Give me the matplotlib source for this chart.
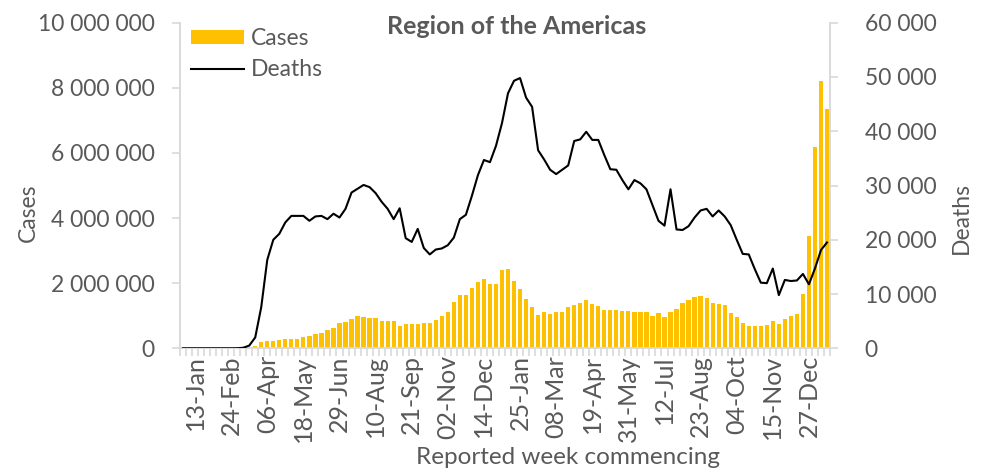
import matplotlib
matplotlib.use("Agg")
import matplotlib.pyplot as plt
import numpy as np
from matplotlib.patches import Patch
from matplotlib.lines import Line2D

# ---- data ----
week_start = "2019-12-30"
n_weeks = 108
cases_m = [0, 0, 0, 0, 0, 0, 0, 0, 0.0005, 0.002, 0.006, 0.025,
           0.08, 0.18, 0.23, 0.21, 0.25, 0.28, 0.28, 0.30, 0.36, 0.37, 0.43, 0.46,
           0.55, 0.63, 0.78, 0.82, 0.89, 0.99, 0.97, 0.92, 0.94, 0.85, 0.83, 0.85,
           0.68, 0.75, 0.75, 0.74, 0.78, 0.79, 0.88, 0.98, 1.11, 1.43, 1.63, 1.63,
           1.84, 2.04, 2.14, 1.97, 1.97, 2.42, 2.45, 2.08, 1.82, 1.51, 1.27, 1.03,
           1.10, 1.06, 1.13, 1.13, 1.26, 1.32, 1.38, 1.47, 1.37, 1.29, 1.19, 1.17,
           1.19, 1.16, 1.16, 1.11, 1.13, 1.11, 0.98, 1.08, 0.95, 1.10, 1.22, 1.38,
           1.48, 1.59, 1.60, 1.56, 1.40, 1.37, 1.32, 1.07, 0.95, 0.78, 0.70, 0.70,
           0.67, 0.73, 0.84, 0.75, 0.91, 0.98, 1.06, 1.68, 3.45, 6.19, 8.21, 7.34]
deaths_k = [0, 0, 0, 0, 0, 0, 0, 0, 0, 0.01, 0.1, 0.5,
            2.0, 7.6, 16.3, 20.0, 21.1, 23.2, 24.4, 24.4, 24.4, 23.5, 24.3, 24.4,
            23.8, 24.8, 24.1, 25.7, 28.7, 29.4, 30.1, 29.7, 28.6, 27.0, 25.7, 23.8,
            25.8, 20.3, 19.6, 22.0, 18.5, 17.3, 18.2, 18.4, 19.0, 20.4, 23.8, 24.6,
            28.1, 31.9, 34.7, 34.3, 37.3, 41.5, 47.0, 49.3, 49.8, 46.2, 44.5, 36.5,
            34.8, 32.9, 32.1, 32.9, 33.7, 38.2, 38.5, 39.9, 38.4, 38.4, 35.6, 33.0,
            32.9, 31.0, 29.3, 31.0, 30.4, 29.3, 26.4, 23.5, 22.6, 29.3, 21.9, 21.8,
            22.5, 24.1, 25.4, 25.7, 24.3, 25.4, 24.3, 22.7, 20.0, 17.4, 17.3, 14.6,
            12.1, 12.0, 14.7, 9.8, 12.6, 12.4, 12.5, 13.7, 11.8, 14.7, 18.1, 19.5]
tick_labels = ["13-Jan", "24-Feb", "06-Apr", "18-May", "29-Jun", "10-Aug",
               "21-Sep", "02-Nov", "14-Dec", "25-Jan", "08-Mar", "19-Apr",
               "31-May", "12-Jul", "23-Aug", "04-Oct", "15-Nov", "27-Dec"]
first_label_idx = 2
label_step = 6
left_ticks = [0, 2000000, 4000000, 6000000, 8000000, 10000000]
right_ticks = [0, 10000, 20000, 30000, 40000, 50000, 60000]

cases = np.array(cases_m) * 1e6
deaths = np.array(deaths_k) * 1e3
x = np.arange(n_weeks)

# ---- style ----
FONT = "Lato"
TXT = "#595959"
GRID = "#D9D9D9"
plt.rcParams["font.family"] = [FONT, "DejaVu Sans"]

fig = plt.figure(figsize=(9.84, 4.70), dpi=100)
ax = fig.add_axes([180/984, 1-348.3/470, 650/984, (348.3-22.7)/470])
ax2 = ax.twinx()

ax.bar(x, cases, width=0.7, color="#FFC000", zorder=2)
ax2.plot(x, deaths, color="black", lw=1.5, zorder=3)

ax.set_xlim(-0.5, n_weeks - 0.5)
ax.set_ylim(0, 10000000)
ax2.set_ylim(0, 60000)

def fmt(v):
    return f"{int(v):,}".replace(",", " ")

ax.set_yticks(left_ticks)
ax.set_yticklabels([fmt(v) for v in left_ticks])
ax2.set_yticks(right_ticks)
ax2.set_yticklabels([fmt(v) for v in right_ticks])

pos = [first_label_idx + i*label_step for i in range(len(tick_labels))]
ax.set_xticks(pos)
ax.set_xticklabels(tick_labels, rotation=90)
ax.set_xticks(np.arange(-0.5, n_weeks, 1), minor=True)

for a in (ax, ax2):
    a.spines["top"].set_visible(False)
    for s in ("left", "right", "bottom"):
        a.spines[s].set_color(GRID)
        a.spines[s].set_linewidth(1.2)

ax.tick_params(axis="x", which="major", length=0, pad=5, labelsize=18, labelcolor=TXT)
ax.tick_params(axis="x", which="minor", length=6, width=1.2, color=GRID)
ax.tick_params(axis="y", length=6, width=1.2, color=GRID, pad=12, labelsize=16.5, labelcolor=TXT)
ax2.tick_params(axis="y", length=6, width=1.2, color=GRID, pad=19, labelsize=16.5, labelcolor=TXT)

fig.text(517/984, 1-27/470, "Region of the Americas", ha="center", va="center",
         fontsize=18, fontweight="bold", color=TXT)
fig.text(568/984, 1-457/470, "Reported week commencing", ha="center", va="center",
         fontsize=17.5, color=TXT)
fig.text(28/984, 1-213/470, "Cases", rotation=90, ha="center", va="center",
         fontsize=16.5, color=TXT)
fig.text(961/984, 1-218/470, "Deaths", rotation=90, ha="center", va="center",
         fontsize=16.5, color=TXT)

handles = [Patch(facecolor="#FFC000", edgecolor="none", label="Cases"),
           Line2D([0], [0], color="black", lw=1.5, label="Deaths")]
leg = ax.legend(handles=handles, loc="upper left", bbox_to_anchor=(191/984, 1-28/470),
                bbox_transform=fig.transFigure, frameon=False, fontsize=16.5,
                handlelength=2.3, handleheight=0.6, handletextpad=0.3,
                labelspacing=0.45, borderpad=0, borderaxespad=0)
for t in leg.get_texts():
    t.set_color(TXT)

fig.savefig("out.png", dpi=100)
